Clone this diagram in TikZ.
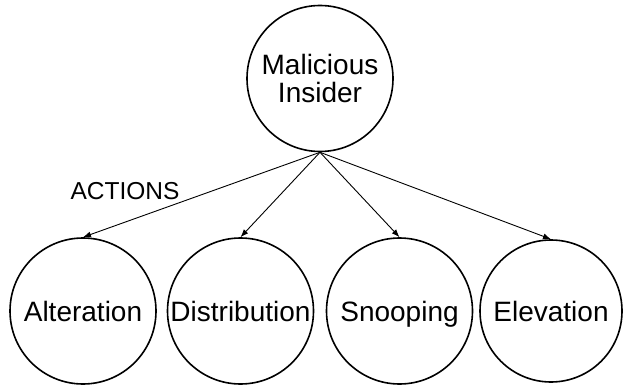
\documentclass[tikz,border=0pt]{standalone}
\usepackage{fontspec}
\setmainfont{Liberation Sans}
\usetikzlibrary{arrows.meta}
\begin{document}
\begin{tikzpicture}[x=1pt,y=-1pt,
  circ/.style={circle,draw,line width=1.6pt,inner sep=0pt,minimum size=146pt,font=\fontsize{28}{31}\selectfont,align=center},
  leaf/.style={circ,text height=21pt,text depth=0pt},
  arr/.style={-{Latex[length=8pt,width=6pt]},line width=0.9pt}]
\useasboundingbox (0,0) rectangle (623,387);
\node[circ] (mi) at (320,78.5) {Malicious\\[-3pt]Insider};
\node[leaf] (alt) at (83,311) {Alteration};
\node[leaf] (dis) at (240.5,311) {Distribution};
\node[leaf] (sno) at (399.5,311) {Snooping};
\node[leaf,minimum size=142pt] (ele) at (551,311) {Elevation};
\node[font=\fontsize{24.5}{27}\selectfont] (act) at (125,191) {ACTIONS};
\draw[arr] (mi.south) -- (alt.north);
\draw[arr] (mi.south) -- (dis.north);
\draw[arr] (mi.south) -- (sno.north);
\draw[arr] (mi.south) -- (ele.north);
\end{tikzpicture}
\end{document}
